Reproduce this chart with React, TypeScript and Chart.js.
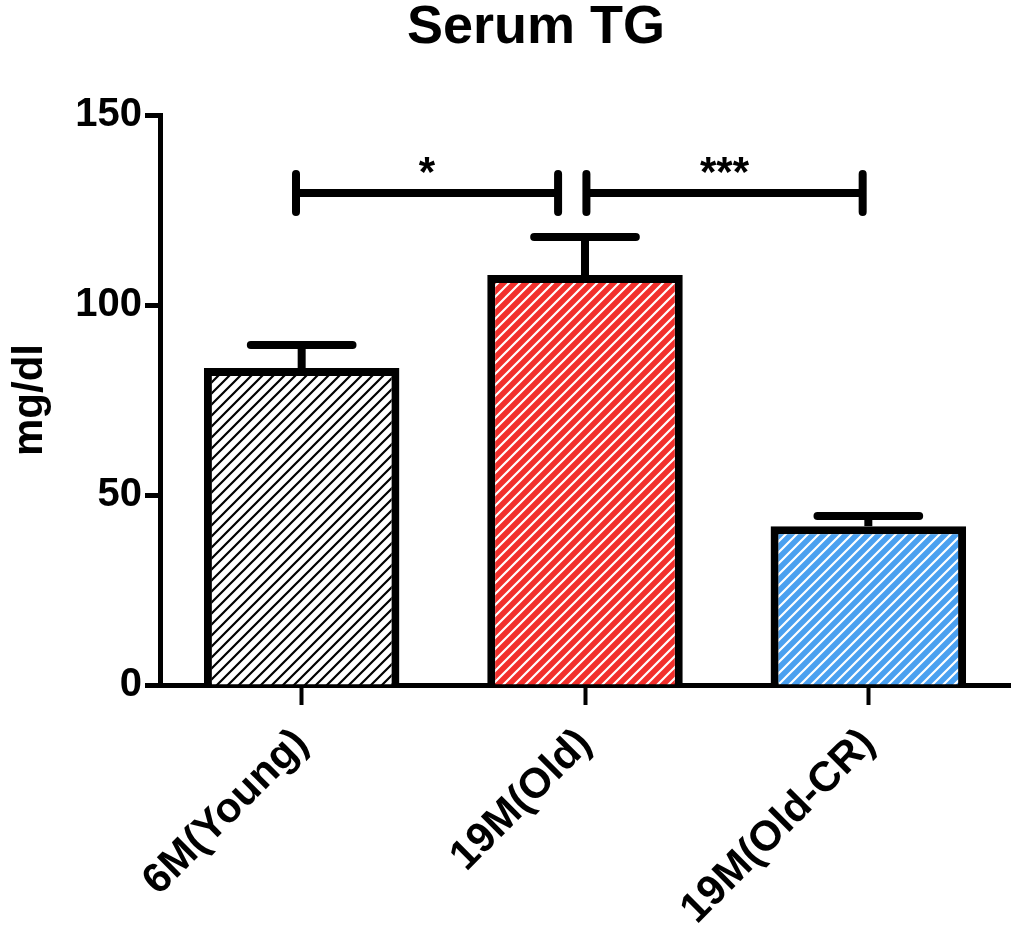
import React, { useEffect, useRef } from 'react';
import { Chart, registerables } from 'chart.js';

Chart.register(...registerables);

const chartTitle = 'Serum TG';
const yAxisTitle = 'mg/dl';
const categories = ['6M(Young)', '19M(Old)', '19M(Old-CR)'];
const means = [83.4, 107.9, 41.8];
const sems = [6.1, 10.0, 2.7];
const yTicks = [0, 50, 100, 150];
const comparisons: [number, number][] = [[0, 1], [1, 2]];
const significance = ['*', '***'];
const bracketLevels = [129.5, 129.5];
const barFills = ['#ffffff', '#f2302c', '#4aa0f0'];
const stripeColors = ['#000000', '#ffffff', '#ffffff'];

const FONT = "'Liberation Sans', Arial, Helvetica, sans-serif";

function makePattern(bg: string, fg: string) {
  const s = 11;
  const c = document.createElement('canvas');
  c.width = s;
  c.height = s;
  const g = c.getContext('2d')!;
  g.fillStyle = bg;
  g.fillRect(0, 0, s, s);
  g.strokeStyle = fg;
  g.lineWidth = 2.2;
  g.beginPath();
  g.moveTo(-2, s + 2);
  g.lineTo(s + 2, -2);
  g.moveTo(-2, 2);
  g.lineTo(2, -2);
  g.moveTo(s - 2, s + 2);
  g.lineTo(s + 2, s - 2);
  g.stroke();
  return g.createPattern(c, 'repeat') as CanvasPattern;
}

// per-bracket horizontal insets, in category units (style)
const bracketInsets = [[-0.02, -0.095], [0.005, -0.02]];

const overlayPlugin = {
  id: 'overlay',
  afterDatasetsDraw(chart: any) {
    const { ctx, scales } = chart;
    const x = scales.x;
    const y = scales.y;
    const meta = chart.getDatasetMeta(0);
    ctx.save();
    ctx.strokeStyle = '#000';
    ctx.fillStyle = '#000';
    // error bars (upper only)
    meta.data.forEach((bar: any, i: number) => {
      const cx = bar.x;
      const top = y.getPixelForValue(means[i]);
      const et = y.getPixelForValue(means[i] + sems[i]);
      ctx.lineWidth = 8;
      ctx.lineCap = 'butt';
      ctx.beginPath();
      ctx.moveTo(cx, top);
      ctx.lineTo(cx, et);
      ctx.stroke();
      const half = bar.width * 0.26;
      ctx.lineCap = 'round';
      ctx.beginPath();
      ctx.moveTo(cx - half, et);
      ctx.lineTo(cx + half, et);
      ctx.stroke();
    });
    // significance brackets
    const unit = x.getPixelForValue(1) - x.getPixelForValue(0);
    comparisons.forEach(([a, b], k) => {
      const ly = y.getPixelForValue(bracketLevels[k]);
      const xa = x.getPixelForValue(a) + bracketInsets[k][0] * unit;
      const xb = x.getPixelForValue(b) + bracketInsets[k][1] * unit;
      ctx.lineWidth = 8;
      ctx.lineCap = 'round';
      ctx.beginPath();
      ctx.moveTo(xa, ly);
      ctx.lineTo(xb, ly);
      ctx.moveTo(xa, ly - 19);
      ctx.lineTo(xa, ly + 19);
      ctx.moveTo(xb, ly - 19);
      ctx.lineTo(xb, ly + 19);
      ctx.stroke();
      ctx.font = `bold 42px ${FONT}`;
      ctx.textAlign = 'center';
      ctx.textBaseline = 'alphabetic';
      ctx.fillText(significance[k], (xa + xb) / 2, ly - 7);
    });
    ctx.restore();
  },
  afterDraw(chart: any) {
    const { ctx } = chart;
    ctx.save();
    ctx.fillStyle = '#000';
    ctx.font = `bold 54px ${FONT}`;
    ctx.textAlign = 'center';
    ctx.textBaseline = 'middle';
    ctx.fillText(chartTitle, 536, 28);
    ctx.restore();
  },
};

export default function App() {
  const ref = useRef<HTMLCanvasElement>(null);
  useEffect(() => {
    const canvas = ref.current!;
    const patterns = barFills.map((bg, i) => makePattern(bg, stripeColors[i]));
    const chart = new Chart(canvas, {
      type: 'bar',
      data: {
        labels: categories,
        datasets: [
          {
            data: means,
            backgroundColor: patterns as any,
            borderColor: '#000',
            borderWidth: 8,
            borderSkipped: 'bottom',
            barPercentage: 0.69,
            categoryPercentage: 1,
          },
        ],
      },
      options: {
        responsive: false,
        animation: false,
        devicePixelRatio: 1,
        layout: { padding: { top: 115, right: 10, left: 0, bottom: 0 } },
        plugins: {
          legend: { display: false },
          tooltip: { enabled: false },
          title: { display: false },
        },
        scales: {
          x: {
            type: 'category',
            offset: true,
            grid: {
              display: true,
              drawOnChartArea: false,
              drawTicks: true,
              tickLength: 20,
              tickWidth: 4,
              tickColor: '#000',
              offset: false,
            },
            border: { display: true, color: '#000', width: 5 },
            ticks: {
              color: '#000',
              font: { family: FONT, size: 42, weight: 'bold' },
              maxRotation: 45,
              minRotation: 45,
              padding: 14,
              autoSkip: false,
            },
            afterFit: (s: any) => {
              s.height = 244;
            },
          },
          y: {
            min: 0,
            max: 150,
            afterBuildTicks: (s: any) => {
              s.ticks = yTicks.map((v) => ({ value: v }));
            },
            grid: {
              drawOnChartArea: false,
              drawTicks: true,
              tickLength: 15,
              tickWidth: 5,
              tickColor: '#000',
            },
            border: { display: true, color: '#000', width: 5 },
            ticks: {
              color: '#000',
              font: { family: FONT, size: 40, weight: 'bold' },
              padding: 3,
            },
            title: {
              display: true,
              text: yAxisTitle,
              color: '#000',
              font: { family: FONT, size: 42, weight: 'bold' },
              padding: { top: 5, bottom: 0 },
            },
            afterFit: (s: any) => {
              s.width = 160;
            },
          },
        },
      },
      plugins: [overlayPlugin],
    });
    return () => chart.destroy();
  }, []);
  return (
    <div style={{ position: 'absolute', left: 0, top: 0, width: 1020, height: 929, background: '#fff' }}>
      <canvas ref={ref} width={1020} height={929} style={{ width: 1020, height: 929, display: 'block' }} />
    </div>
  );
}
